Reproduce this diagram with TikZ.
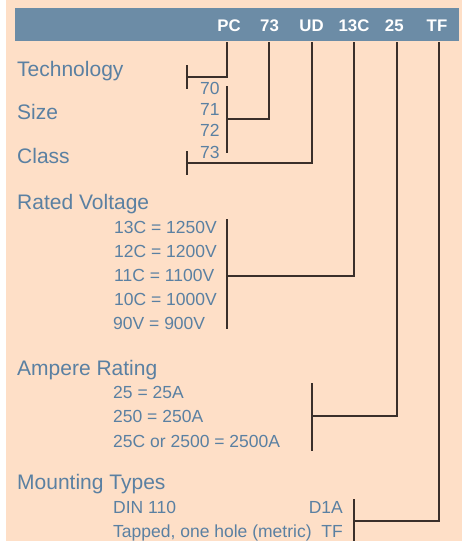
\documentclass[tikz,border=0pt]{standalone}
\usepackage{fontspec}
\setmainfont{Liberation Sans}
\definecolor{peach}{HTML}{FEDFC7}
\definecolor{barblue}{HTML}{6C8CA6}
\definecolor{txtblue}{HTML}{5A80A2}
\definecolor{linec}{HTML}{3A2F2A}
\begin{document}
\begin{tikzpicture}[x=1pt,y=-1pt,
  head/.style={font=\fontsize{16.8}{18}\selectfont\bfseries, text=white, anchor=base, inner sep=0pt},
  big/.style={font=\fontsize{21}{24}\selectfont, text=txtblue, anchor=base west, inner sep=0pt},
  small/.style={font=\fontsize{17.5}{20}\selectfont, text=txtblue, anchor=base west, inner sep=0pt},
  smallr/.style={small, anchor=base east},
  conn/.style={draw=linec, line width=1.3pt},
  brack/.style={draw=linec, line width=1.3pt}]
\useasboundingbox (0,0) rectangle (462,541);
\fill[white] (0,0) rectangle (6,541);
\fill[peach] (6,0) rectangle (462,541);
\fill[barblue] (15,8) rectangle (459,41);
% header codes
\node[head] (pc) at (229,31) {PC};
\node[head] (sz) at (269.5,31) {73};
\node[head] (ud) at (311.5,31) {UD};
\node[head] (vc) at (354,31) {13C};
\node[head] (am) at (394.3,31) {25};
\node[head] (tf) at (437,31) {TF};
% labels
\node[big] (tech) at (17,76) {Technology};
\node[big] (size) at (17,119) {Size};
\node[big] (class) at (17,163) {Class};
\node[big] (rv) at (17,209) {Rated Voltage};
\node[big] (ar) at (17,375) {Ampere Rating};
\node[big] (mt) at (17,489) {Mounting Types};
\node[small] (s70) at (200,94) {70};
\node[small] (s71) at (200,115) {71};
\node[small] (s72) at (200,136) {72};
\node[small] (s73) at (200,158) {73};
\node[small] (v13) at (114,233) {13C = 1250V};
\node[small] (v12) at (114,257) {12C = 1200V};
\node[small] (v11) at (114,281) {11C = 1100V};
\node[small] (v10) at (114,305) {10C = 1000V};
\node[small] (v90) at (113,329) {90V = 900V};
\node[small] (a25) at (113,398) {25 = 25A};
\node[small] (a250) at (113,422.5) {250 = 250A};
\node[small] (a25c) at (113,447) {25C or 2500 = 2500A};
\node[small] (din) at (113,513) {DIN 110};
\node[small] (tap) at (113,537) {Tapped, one hole (metric)};
\node[smallr] (d1a) at (343,513) {D1A};
\node[smallr] (tfl) at (343,537) {TF};
% line tops
\coordinate (t1) at (227,42);
\coordinate (t2) at (269,42);
\coordinate (t3) at (312,42);
\coordinate (t4) at (354,42);
\coordinate (t5) at (397,42);
\coordinate (t6) at (439,42);
% junctions
\coordinate (j1) at (187,77);
\coordinate (j2) at (227,119);
\coordinate (j3) at (187,163);
\coordinate (j4) at (227,276);
\coordinate (j5) at (312,416);
\coordinate (j6) at (354,521);
% brackets
\draw[brack] (187,65) -- (187,89);
\draw[brack] (227,86) -- (227,153);
\draw[brack] (187,151) -- (187,175);
\draw[brack] (227,219) -- (227,329);
\draw[brack] (312,383) -- (312,451);
\draw[brack] (354,499) -- (354,545);
% connectors
\draw[conn] (t1) |- (j1);
\draw[conn] (t2) |- (j2);
\draw[conn] (t3) |- (j3);
\draw[conn] (t4) |- (j4);
\draw[conn] (t5) |- (j5);
\draw[conn] (t6) |- (j6);
\end{tikzpicture}
\end{document}
